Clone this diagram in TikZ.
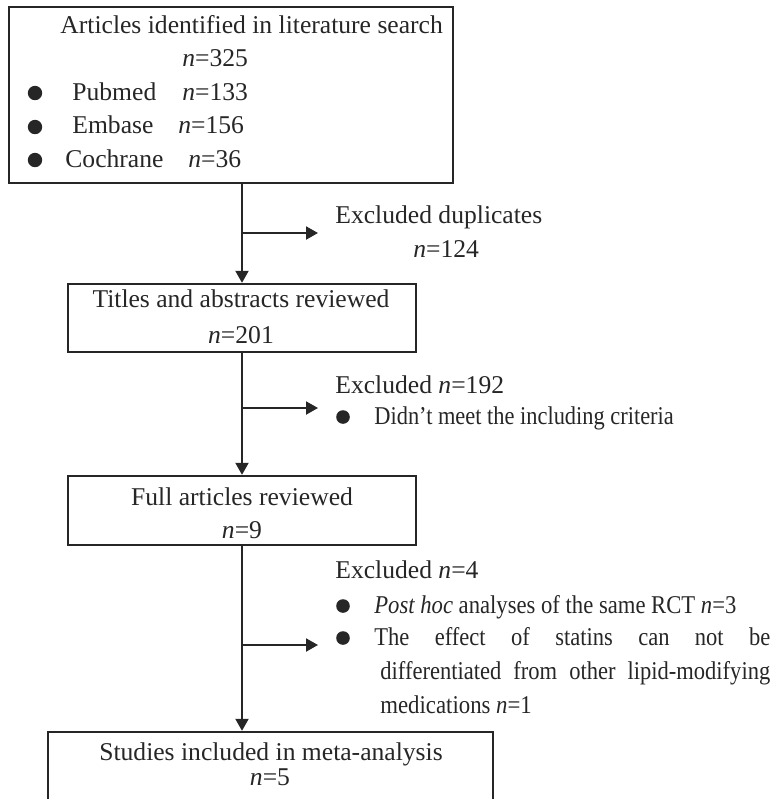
\documentclass[tikz,border=0pt]{standalone}
\usepackage{graphicx}
\usepackage{fontspec}
\setmainfont{Liberation Serif}
\usetikzlibrary{arrows.meta}
\colorlet{ink}{black!85}
\tikzset{
  box/.style={draw=ink, line width=1.2pt, inner sep=0pt},
  flow/.style={draw=ink, line width=1pt, -{Triangle[width=6.5pt,length=6pt]}},
  txt/.style={inner sep=0pt, anchor=base west, text=ink},
  mid/.style={inner sep=0pt, anchor=base, text=ink},
}
\newcommand{\nval}[1]{\textit{n}=#1}
\newcommand{\narrow}[2]{\scalebox{#1}[1]{#2}}

\begin{document}
\begin{tikzpicture}[x=0.5pt, y=-0.5pt, font=\fontsize{12.8pt}{15pt}\selectfont]
    \useasboundingbox (0,0) rectangle (771,799);
    \clip (0,0) rectangle (771,799);
    \coordinate (axis) at (242,0);

    % Search box
    \node[box, minimum width=222pt, minimum height=88pt] (search) at (231,95) {};
    \node[txt] (searchTitle) at (60,33) {Articles identified in literature search};
    \node[txt] (searchN) at (182,66) {\nval{325}};
    \node[txt] (pubmed) at (72,100) {Pubmed};
    \node[txt] (pubmedN) at (182,100) {\nval{133}};
    \node[txt] (embase) at (72,133) {Embase};
    \node[txt] (embaseN) at (178,133) {\nval{156}};
    \node[txt] (cochrane) at (65,167) {Cochrane};
    \node[txt] (cochraneN) at (188,167) {\nval{36}};
    \foreach \y in {93,127,160}
        \fill[ink] (35,\y) circle (3.6pt);

    % Titles and abstracts
    \node[box, minimum width=174pt, minimum height=34pt] (titles) at (242,318) {};
    \node[mid] (titlesText) at (241,307) {Titles and abstracts reviewed};
    \node[mid] (titlesN) at (241,343) {\nval{201}};
    \draw[flow] (search.south -| axis) -- (titles.north);
    \coordinate (dupStart) at (242,233);
    \coordinate (dupEnd) at (318,233);
    \draw[flow] (dupStart) -- (dupEnd);
    \node[txt] (dupText) at (335,223) {Excluded duplicates};
    \node[txt] (dupN) at (413,257) {\nval{124}};

    % Full articles
    \node[box, minimum width=174pt, minimum height=34.5pt] (full) at (242,510.5) {};
    \node[mid] (fullText) at (242,505) {Full articles reviewed};
    \node[mid] (fullN) at (242,538) {\nval{9}};
    \draw[flow] (titles.south) -- (full.north);
    \coordinate (critStart) at (242,408);
    \coordinate (critEnd) at (318,408);
    \draw[flow] (critStart) -- (critEnd);
    \node[txt] (critText) at (335,393) {Excluded \nval{192}};
    \fill[ink] (343,417) circle (3.4pt);
    \node[txt] (critItem) at (374,424) {\narrow{0.875}{Didn’t meet the including criteria}};

    % Included studies (cut off at the bottom)
    \node[box, minimum width=222.5pt, minimum height=40pt] (included) at (270.5,772) {};
    \node[mid] (includedText) at (271,760) {Studies included in meta-analysis};
    \node[mid] (includedN) at (270,785) {\nval{5}};
    \draw[flow] (full.south) -- (included.north -| axis);
    \coordinate (rctStart) at (242,645);
    \coordinate (rctEnd) at (318,645);
    \draw[flow] (rctStart) -- (rctEnd);
    \node[txt] (rctText) at (335,578) {Excluded \nval{4}};
    \fill[ink] (343,606) circle (3.4pt);
    \node[txt] (rctItem) at (374,613) {\narrow{0.885}{\textit{Post hoc} analyses of the same RCT \nval{3}}};
    \fill[ink] (343,638) circle (3.4pt);
    \node[txt] (statinA) at (374,645) {\narrow{0.88}{\makebox[225pt][s]{The effect of statins can not be}}};
    \node[txt] (statinB) at (380,679) {\narrow{0.88}{\makebox[221.5pt][s]{differentiated from other lipid-modifying}}};
    \node[txt] (statinC) at (380,713) {\narrow{0.89}{medications \nval{1}}};
\end{tikzpicture}
\end{document}
